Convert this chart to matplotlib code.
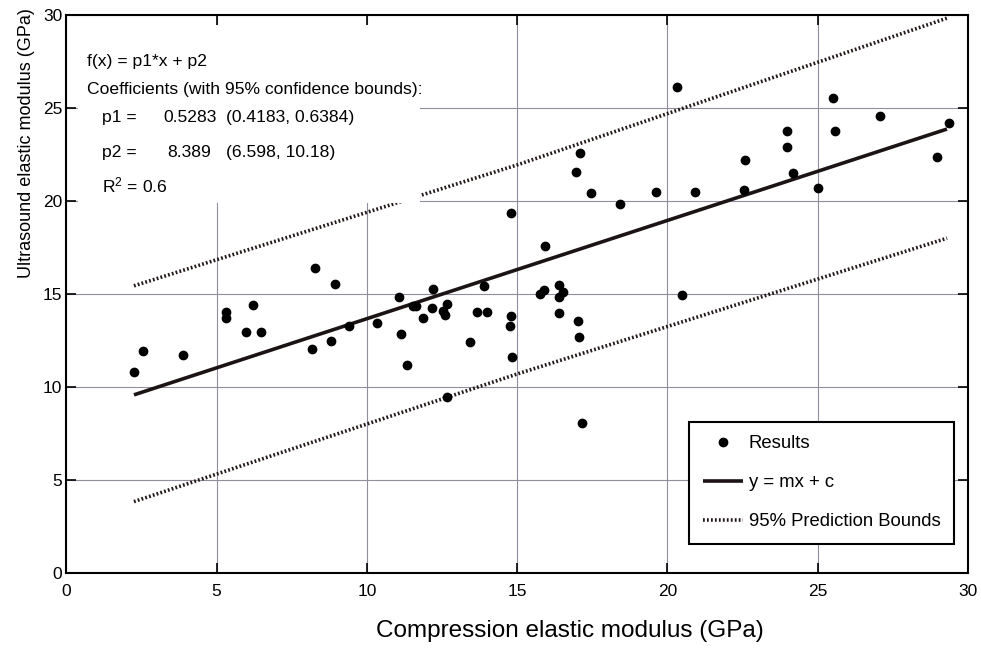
import matplotlib
matplotlib.use("Agg")
import matplotlib.pyplot as plt
from matplotlib.patches import Rectangle
import numpy as np

# measured samples: compression modulus (x) vs ultrasound modulus (y), GPa
comp_gpa = [2.25, 2.54, 3.87, 5.31, 5.31, 6.20, 5.98, 6.48, 8.29, 8.93,
            8.18, 8.80, 9.41, 10.32, 11.06, 11.14, 11.32, 12.20, 11.54, 11.63,
            12.17, 11.85, 12.52, 12.60, 12.68, 13.89, 13.67, 14.01, 13.42, 12.68,
            14.79, 14.79, 14.76, 14.84, 15.93, 15.75, 15.89, 16.40, 16.53, 16.40,
            16.40, 17.03, 17.06, 17.14, 17.08, 16.97, 17.44, 18.41, 19.61, 20.32,
            20.93, 20.47, 22.54, 22.58, 23.99, 23.99, 24.19, 25.01, 25.51, 25.56,
            27.08, 28.97, 29.37]
ultra_gpa = [10.83, 11.92, 11.71, 14.04, 13.72, 14.40, 12.95, 12.95, 16.39, 15.54,
             12.06, 12.48, 13.28, 13.43, 14.83, 12.84, 11.19, 15.26, 14.36, 14.36,
             14.25, 13.70, 14.09, 13.88, 14.47, 15.44, 14.04, 14.04, 12.42, 9.45,
             19.34, 13.84, 13.28, 11.63, 17.60, 15.01, 15.22, 15.49, 15.13, 14.83,
             13.97, 13.57, 12.71, 8.09, 22.60, 21.56, 20.42, 19.84, 20.49, 26.12,
             20.49, 14.95, 20.60, 22.23, 23.78, 22.92, 21.49, 20.72, 25.53, 23.78,
             24.58, 22.35, 24.18]

# linear model printed on the chart
p1, p2 = 0.5283, 8.389
fit_range = [2.25, 29.3]

# 95% prediction bounds
bound_x = [2.25, 15.0, 29.3]
upper_bound = [15.44, 21.94, 29.83]
lower_bound = [3.84, 10.70, 18.00]

ticks = [0, 5, 10, 15, 20, 25, 30]

header_lines = ["f(x) = p1*x + p2", "Coefficients (with 95% confidence bounds):"]
coef_names = ["p1 =", "p2 ="]
coef_values = ["0.5283", "8.389"]
coef_bounds = ["(0.4183, 0.6384)", "(6.598, 10.18)"]
r2_line = "R$^{2}$ = 0.6"

plt.rcParams["font.family"] = ["Liberation Sans", "DejaVu Sans"]
plt.rcParams["mathtext.default"] = "regular"

INK = "#1c1414"
DOT = (0, (0.5, 0.6))

fig = plt.figure(figsize=(9.81, 6.48), dpi=100)
ax = fig.add_axes([0.0676, 0.1157, 0.9192, 0.8612])
ax.set_axisbelow(True)

ax.plot(comp_gpa, ultra_gpa, "o", ms=6, color="black", mec="black",
        label="Results", zorder=2.2)
fit_x = np.array(fit_range)
ax.plot(fit_x, p1 * fit_x + p2, "-", color=INK, lw=2.6,
        solid_capstyle="butt", label="y = mx + c", zorder=2)
ax.plot(bound_x, upper_bound, color="#241818", lw=2.6, ls=DOT,
        label="95% Prediction Bounds", zorder=2)
ax.plot(bound_x, lower_bound, color="#241818", lw=2.6, ls=DOT, zorder=2)

# white panel behind the fit summary (hides grid and the bound line there)
ax.add_patch(Rectangle((0.4, 19.9), 11.38, 9.55, facecolor="white",
                       edgecolor="none", zorder=3))
fs = 12.6
ax.text(0.69, 27.28, header_lines[0], fontsize=fs, zorder=4)
ax.text(0.69, 25.74, header_lines[1], fontsize=fs, zorder=4)
for i, yb in enumerate([24.22, 22.39]):
    ax.text(1.19, yb, coef_names[i], fontsize=fs, zorder=4)
    ax.text([3.22, 3.35][i], yb, coef_values[i], fontsize=fs, zorder=4)
    ax.text(5.31, yb, coef_bounds[i], fontsize=fs, zorder=4)
ax.text(1.19, 20.45, r2_line, fontsize=fs, zorder=4)

ax.set_xlim(0, 30)
ax.set_ylim(0, 30)
ax.set_xticks(ticks)
ax.set_yticks(ticks)
ax.grid(True, color="#928ea0", lw=0.8)
ax.tick_params(direction="in", length=7, width=1.2, top=True, right=True,
               labelsize=12.5, colors="black")
ax.tick_params(axis="x", pad=8)
ax.tick_params(axis="y", pad=3)
for s in ax.spines.values():
    s.set_linewidth(1.5)
    s.set_color("black")

ax.set_xlabel("Compression elastic modulus (GPa)", fontsize=17.5)
ax.set_ylabel("Ultrasound elastic modulus (GPa)", fontsize=13)
ax.xaxis.set_label_coords(0.558, -0.084)
ax.yaxis.set_label_coords(-0.035, 0.77)

leg = ax.legend(loc="upper left", bbox_to_anchor=(0.691, 0.271), fontsize=13.3,
                frameon=True, fancybox=False, framealpha=1, edgecolor="black",
                borderpad=0.72, labelspacing=1.2, handlelength=2.2,
                handletextpad=0.3, borderaxespad=0)
leg.get_frame().set_linewidth(1.5)

fig.savefig("out.png", dpi=100)
